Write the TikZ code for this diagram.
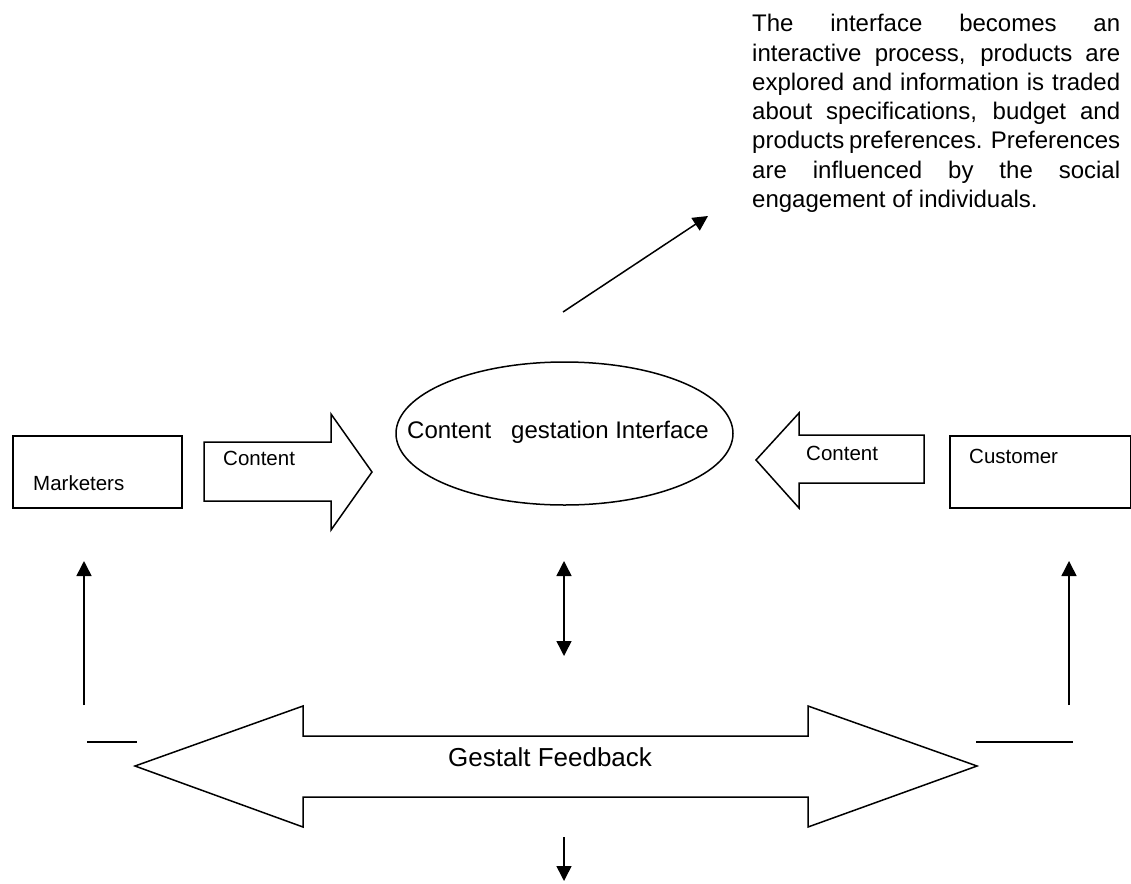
\documentclass[tikz,border=0pt]{standalone}
\usepackage{fontspec}
\setmainfont{Liberation Sans}
\usetikzlibrary{arrows.meta,shapes.geometric}
\begin{document}
\begin{tikzpicture}[x=1pt,y=-1pt,
  shp/.style={draw,line width=1.5pt,line join=miter},
  arr/.style={line width=1.5pt,-{Triangle[length=15pt,width=15pt]}},
  darr/.style={line width=1.5pt,{Triangle[length=15pt,width=15pt]}-{Triangle[length=15pt,width=15pt]}},
  plain/.style={line width=1.5pt},
  lbl/.style={anchor=base west,inner sep=0,font=\fontsize{20.5}{24}\selectfont},
  big/.style={anchor=base west,inner sep=0,font=\fontsize{24}{29}\selectfont}]
\useasboundingbox (0,0) rectangle (1131,883);

% explanatory paragraph
\node[big] (para) at (752,32) {\vtop{\baselineskip=29.2pt
  \hbox to 368pt{The interface becomes an}
  \hbox to 368pt{interactive process, products are}
  \hbox to 368pt{explored and information is traded}
  \hbox to 368pt{about specifications, budget and}
  \hbox to 368pt{products preferences. Preferences}
  \hbox to 368pt{are influenced by the social}
  \hbox{engagement of individuals.}}};

% diagonal arrow
\coordinate (dgs) at (563,312);
\coordinate (dge) at (708,216);
\draw[arr] (dgs) -- (dge);

% boxes
\node[shp,anchor=north west,minimum width=169pt,minimum height=72pt,inner sep=0] (mk) at (12,435) {};
\node[lbl] (mkt) at (33,490) {Marketers};
\node[shp,anchor=north west,minimum width=181pt,minimum height=72pt,inner sep=0] (cu) at (949,435) {};
\node[lbl] (cut) at (969,463) {Customer};

% ellipse
\node[shp,ellipse,minimum width=337pt,minimum height=143pt,inner sep=0] (ell) at (564.5,433.5) {};
\node[big] (ellt) at (407,438) {Content\ \ \ gestation Interface};

% content arrows
\draw[shp] (204,442) -- (331,442) -- (331,414) -- (372,472) -- (331,530) -- (331,501) -- (204,501) -- cycle;
\node[lbl] (c1) at (223,465) {Content};
\draw[shp] (924,435) -- (799,435) -- (799,413) -- (756,460) -- (799,508) -- (799,483) -- (924,483) -- cycle;
\node[lbl] (c2) at (806,460) {Content};

% vertical arrows
\coordinate (dbt) at (564,561);
\coordinate (dbb) at (564,656);
\draw[darr] (dbt) -- (dbb);
\coordinate (lvb) at (84,705);
\coordinate (lvt) at (84,561);
\draw[arr] (lvb) -- (lvt);
\coordinate (rvb) at (1069,705);
\coordinate (rvt) at (1069,561);
\draw[arr] (rvb) -- (rvt);
\coordinate (dwt) at (564,837);
\coordinate (dwb) at (564,881);
\draw[arr] (dwt) -- (dwb);

% short lines
\coordinate (l1a) at (87,742);
\coordinate (l1b) at (137,742);
\draw[plain] (l1a) -- (l1b);
\coordinate (l2a) at (976,742);
\coordinate (l2b) at (1073,742);
\draw[plain] (l2a) -- (l2b);

% gestalt double arrow
\draw[shp] (135,766) -- (303,706) -- (303,736) -- (808,736) -- (808,706) -- (977,766) -- (808,827) -- (808,797) -- (303,797) -- (303,827) -- cycle;
\node[anchor=base west,inner sep=0,font=\fontsize{26}{30}\selectfont] (gf) at (448,766) {Gestalt Feedback};
\end{tikzpicture}
\end{document}
